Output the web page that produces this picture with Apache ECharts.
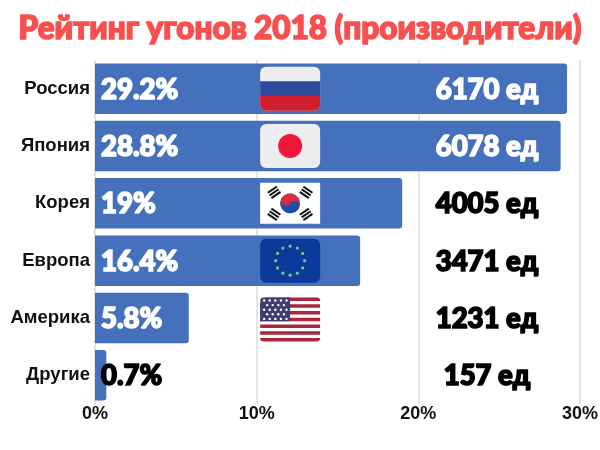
<!DOCTYPE html>
<html><head><meta charset="utf-8">
<style>html,body{margin:0;padding:0;background:#fff}#c{width:600px;height:450px}</style>
<script src="https://cdn.jsdelivr.net/npm/echarts@6/dist/echarts.min.js"></script>
</head><body><div id="c"></div>
<script>
var titleText = 'Рейтинг угонов 2018 (производители)';
var categories = ['Россия','Япония','Корея','Европа','Америка','Другие'];
var shares = [29.2,28.8,19,16.4,5.8,0.7];
var shareLabels = ['29.2%','28.8%','19%','16.4%','5.8%','0.7%'];
var unitLabels = ['6170 ед','6078 ед','4005 ед','3471 ед','1231 ед','157 ед'];
var flags = ['ru','jp','kr','eu','us'];
var axisTicks = [0,10,20,30];

var heavy = '"Lato","Open Sans",sans-serif';
var plain = '"Liberation Sans",Arial,sans-serif';
var chart = echarts.init(document.getElementById('c'));

function flagChildren(kind, x, y, w, h) {
  var r = 6, ch = [];
  function rect(a,b,c,d,fill,rad){ ch.push({type:'rect',shape:{x:x+a,y:y+b,width:c,height:d,r:rad||0},style:{fill:fill}}); }
  if (kind==='ru') {
    rect(0,0,w,h,'#EDEDF0',r);
    rect(0,h/3,w,h/3,'#2F4A9C',0);
    rect(0,h*2/3,w,h/3,'#D0202E',[0,0,r,r]);
  } else if (kind==='jp') {
    rect(0,0,w,h,'#EDEDF0',r);
    ch.push({type:'circle',shape:{cx:x+w/2,cy:y+h/2,r:12},style:{fill:'#F0183A'}});
  } else if (kind==='kr') {
    rect(0,0,w,h,'#FFFFFF',0);
    var cx=x+w/2, cy=y+h/2, t0=0.18*Math.PI;
    ch.push({type:'sector',shape:{cx:cx,cy:cy,r:10,r0:0,startAngle:Math.PI+t0,endAngle:2*Math.PI+t0},style:{fill:'#D22F45'}});
    ch.push({type:'sector',shape:{cx:cx,cy:cy,r:10,r0:0,startAngle:t0,endAngle:Math.PI+t0},style:{fill:'#1C4FA0'}});
    ch.push({type:'circle',shape:{cx:cx-5*Math.cos(t0),cy:cy-5*Math.sin(t0),r:5},style:{fill:'#D22F45'}});
    ch.push({type:'circle',shape:{cx:cx+5*Math.cos(t0),cy:cy+5*Math.sin(t0),r:5},style:{fill:'#1C4FA0'}});
    [[-16,-11,0.6],[16,-11,-0.6],[-16,11,-0.6],[16,11,0.6]].forEach(function(t){
      for (var i=-1;i<=1;i++){
        ch.push({type:'rect',x:cx+t[0],y:cy+t[1],rotation:t[2],
          shape:{x:-5.5,y:i*3.2-1,width:11,height:2},style:{fill:'#111'}});
      }
    });
  } else if (kind==='eu') {
    rect(0,0,w,h,'#0B3A9A',r);
    for (var i=0;i<12;i++){
      var a=i/12*Math.PI*2;
      ch.push({type:'circle',shape:{cx:x+w/2+Math.cos(a)*14.5,cy:y+h/2+Math.sin(a)*14.5,r:1.6},style:{fill:'#7FC97F'}});
    }
  } else if (kind==='us') {
    rect(0,0,w,h,'#FFFFFF',r);
    var sh=h/13;
    for (var k=0;k<13;k+=2){
      var rad = k===0?[r,r,0,0]:(k===12?[0,0,r,r]:0);
      rect(0,k*sh,w,sh,'#A8293D',rad);
    }
    rect(0,0,w*0.5,sh*7,'#3F3D72',[r,0,0,0]);
    for (var j=0;j<5;j++) for (var m=0;m<(j%2?4:5);m++){
      ch.push({type:'circle',shape:{cx:x+4+(j%2?3:0)+m*5.6,cy:y+3+j*4.6,r:1.2},style:{fill:'#fff'}});
    }
  }
  return ch;
}

function textSeries(labels, xValue, align, fontSize, colorOf, name) {
  return {
    type:'custom', name:name, silent:true, z:5,
    data:labels.map(function(l,i){return [xValue,i];}),
    encode:{x:0,y:1},
    renderItem:function(p,api){
      var pt=api.coord([api.value(0),api.value(1)]);
      var c=colorOf(p.dataIndex);
      return {type:'text',style:{x:pt[0],y:pt[1]+1,text:labels[p.dataIndex],align:align,verticalAlign:'middle',
        font:'900 '+fontSize+'px '+heavy,fill:c,stroke:c,lineWidth:1.6}};
    }
  };
}

chart.setOption({
  animation:false,
  backgroundColor:'#fff',
  title:{text:titleText,left:'center',top:8,
    textStyle:{fontFamily:heavy,fontWeight:900,fontSize:31.5,color:'#F9504F',textBorderColor:'#F9504F',textBorderWidth:1.6}},
  grid:{left:95,right:20,top:60,bottom:46,outerBoundsMode:'none'},
  xAxis:{type:'value',min:axisTicks[0],max:axisTicks[3],interval:10,
    axisLine:{show:false},axisTick:{show:false},
    splitLine:{show:true,lineStyle:{color:'#D9DBE2',width:1.5}},
    axisLabel:{formatter:'{value}%',fontFamily:plain,fontWeight:'bold',fontSize:18,color:'#111',margin:1}},
  yAxis:{type:'category',inverse:true,data:categories,
    axisLine:{show:false},axisTick:{show:false},splitLine:{show:false},
    axisLabel:{fontFamily:plain,fontWeight:'bold',fontSize:18.5,color:'#111',margin:5,padding:[2,0,0,0]}},
  series:[
    {type:'bar',data:shares,barWidth:'88%',z:2,
      itemStyle:{color:'#4470BC',borderRadius:[0,3,3,0]}},
    {type:'custom',silent:true,z:4,
      data:flags.map(function(f,i){return [12.07,i];}),
      encode:{x:0,y:1},
      renderItem:function(p,api){
        var pt=api.coord([api.value(0),api.value(1)]);
        var f=flags[p.dataIndex], h=(f==='kr')?41:44, dy=(f==='us')?1.5:0;
        return {type:'group',children:flagChildren(f,pt[0]-30,pt[1]-h/2+dy,60,h)};
      }},
    textSeries(shareLabels,0.37,'left',27.5,function(i){return i===5?'#000':'#fff';},'pct'),
    textSeries(unitLabels,24.25,'center',27.5,function(i){return i<2?'#fff':'#000';},'units')
  ]
});
</script></body></html>
